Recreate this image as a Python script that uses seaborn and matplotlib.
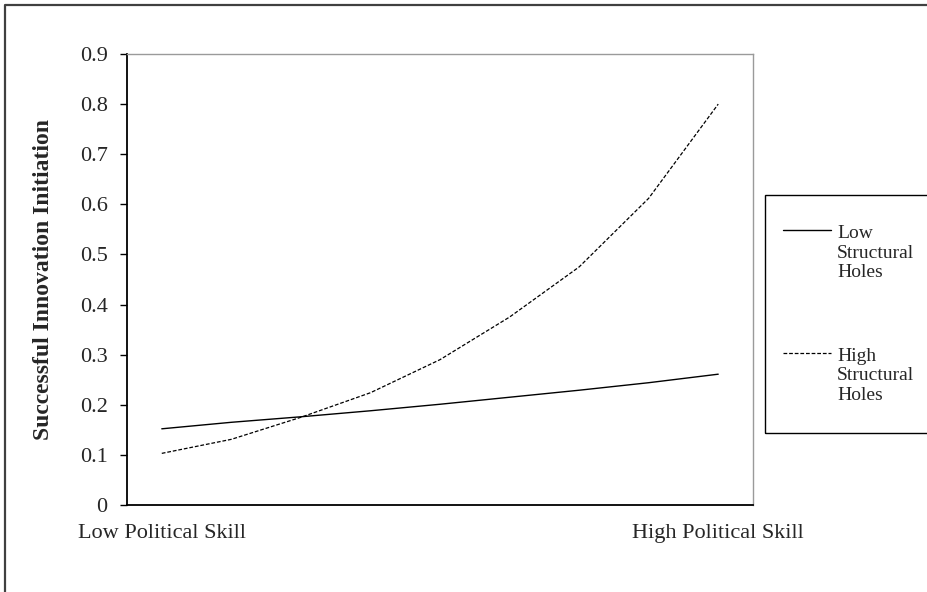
import numpy as np
import pandas as pd
import matplotlib.pyplot as plt
import seaborn as sns
from matplotlib.lines import Line2D
from matplotlib.patches import Rectangle

# values (9 evenly spaced points along political skill)
steps = list(range(9))
low_holes = [0.152, 0.165, 0.176, 0.188, 0.201, 0.215, 0.229, 0.244, 0.261]
high_holes = [0.103, 0.131, 0.175, 0.224, 0.290, 0.375, 0.475, 0.612, 0.800]
x_tick_pos = [0, 8]
x_tick_labels = ['Low Political Skill', 'High Political Skill']
y_ticks = [0, 0.1, 0.2, 0.3, 0.4, 0.5, 0.6, 0.7, 0.8, 0.9]
series_names = ['Low\nStructural\nHoles', 'High\nStructural\nHoles']

sns.set_theme(style='white')
plt.rcParams['font.family'] = ['Liberation Serif', 'DejaVu Serif']
plt.rcParams['axes.unicode_minus'] = False

df = pd.DataFrame({
    'step': steps * 2,
    'value': low_holes + high_holes,
    'group': ['low'] * len(steps) + ['high'] * len(steps),
})

fig = plt.figure(figsize=(9.27, 5.92), dpi=100)
ax = fig.add_axes([0.1370, 0.1470, 0.6753, 0.7618])

sns.lineplot(data=df[df['group'] == 'low'], x='step', y='value',
             color='black', linewidth=1.0, ax=ax, legend=False)
sns.lineplot(data=df[df['group'] == 'high'], x='step', y='value',
             color='black', linewidth=0.9, ax=ax, legend=False)
ax.lines[1].set_dashes((3, 1.5))

ax.set_xlim(-0.5, 8.5)
ax.set_ylim(0, 0.9)
ax.set_yticks(y_ticks)
ax.set_yticklabels([f'{v:g}' for v in y_ticks], fontsize=16)
ax.set_xticks(x_tick_pos)
ax.set_xticklabels(x_tick_labels, fontsize=16)
ax.tick_params(axis='y', length=5, width=1, color='black', pad=9, left=True)
ax.tick_params(axis='x', length=0, pad=14)
ax.set_xlabel('')
ax.set_ylabel('Successful Innovation Initiation', fontsize=17,
              fontweight='bold')
ax.yaxis.set_label_coords(-0.117, 0.5)

for side in ['left', 'bottom']:
    ax.spines[side].set_color('black')
    ax.spines[side].set_linewidth(1.3)
for side in ['top', 'right']:
    ax.spines[side].set_color('#9a9a9a')
    ax.spines[side].set_linewidth(1.0)

# outer frame of the original figure (only top and left edges are visible)
fy = 1 - 5 / 592
fx = 5 / 927
fig.add_artist(Line2D([fx, fx, 1.0], [0.0, fy, fy], transform=fig.transFigure,
                      color='#404040', linewidth=1.6))

# legend box that runs off the right edge
fig.add_artist(Rectangle((765 / 927, 1 - 433 / 592), 0.3, (433 - 195) / 592,
                         transform=fig.transFigure, fill=False,
                         edgecolor='black', linewidth=1.0))
legend_rows = [(230, 253, None), (353, 376, (3, 1.5))]
for name, (ly, ty, dash) in zip(series_names, legend_rows):
    handle = Line2D([783 / 927, 831 / 927], [1 - ly / 592, 1 - ly / 592],
                    transform=fig.transFigure, color='black',
                    linewidth=1.0 if dash is None else 0.9)
    if dash is not None:
        handle.set_dashes(dash)
    fig.add_artist(handle)
    fig.text(837 / 927, 1 - ty / 592, name, fontsize=14, va='center',
             ha='left', linespacing=1.2)

fig.savefig('out.png', dpi=100)
